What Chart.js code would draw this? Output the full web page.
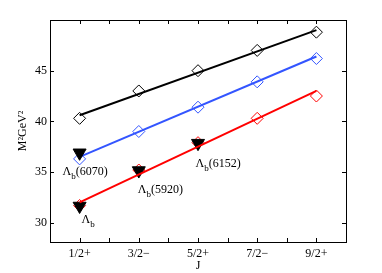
<!DOCTYPE html>
<html>
<head>
<meta charset="utf-8">
<script src="https://cdn.jsdelivr.net/npm/chart.js@4/dist/chart.umd.min.js"></script>
<style>
  html, body { margin: 0; padding: 0; background: #fff; }
  #wrap { width: 382px; height: 273px; }
</style>
</head>
<body>
<div id="wrap"><canvas id="chart"></canvas></div>
<script>
// data
const jLabels = ["1/2+", "3/2\u2212", "5/2+", "7/2\u2212", "9/2+"];
const jPos = [1, 2, 3, 4, 5];
const yTicks = [30, 35, 40, 45];

const blackVals = [40.3, 43.0, 45.0, 47.0, 48.8];
const blueVals = [36.3, 39.0, 41.4, 43.9, 46.2];
const redVals = [31.7, 35.2, 37.9, 40.3, 42.5];

// fitted lines, ends at J = 1/2+ and 9/2+
const lineX = [1, 5];
const blackLine = [40.6, 49.0];
const blueLine = [36.5, 46.4];
const redLine = [32.0, 43.0];

// experimental states (triangles)
const expX = [1, 1, 2, 3];
const expVals = [31.65, 36.9, 35.15, 37.85];
const expNames = ["", "(6070)", "(5920)", "(6152)"];

// label offsets in pixels from each triangle (layout only)
const labelOffsets = [[2, 17], [-17, 22], [-1, 22], [-2.5, 24]];

const FONT = "'Liberation Serif', 'DejaVu Serif', serif";

function pts(xs, ys) {
  return xs.map((x, i) => ({ x: x, y: ys[i] }));
}

const frame = {
  id: "frame",
  afterDraw(chart) {
    const { ctx, chartArea: a, scales } = chart;
    ctx.save();
    ctx.strokeStyle = "#000";
    ctx.lineWidth = 1;
    ctx.strokeRect(a.left + 0.5, a.top + 0.5, a.right - a.left, a.bottom - a.top);
    ctx.beginPath();
    for (let v = 1; v <= 5; v += 0.5) {
      const px = Math.round(scales.x.getPixelForValue(v)) + 0.5;
      ctx.moveTo(px, a.bottom); ctx.lineTo(px, a.bottom - 4);
      ctx.moveTo(px, a.top); ctx.lineTo(px, a.top + 4);
    }
    yTicks.forEach((v) => {
      const py = Math.round(scales.y.getPixelForValue(v)) + 0.5;
      ctx.moveTo(a.left, py); ctx.lineTo(a.left + 4, py);
      ctx.moveTo(a.right, py); ctx.lineTo(a.right - 4, py);
    });
    ctx.stroke();

    // state labels: Lambda with subscript b
    ctx.fillStyle = "#000";
    ctx.textBaseline = "alphabetic";
    expX.forEach((x, i) => {
      let px = scales.x.getPixelForValue(x) + labelOffsets[i][0];
      const py = scales.y.getPixelForValue(expVals[i]) + labelOffsets[i][1];
      ctx.font = "12px " + FONT;
      ctx.fillText("\u039B", px, py);
      px += ctx.measureText("\u039B").width;
      ctx.font = "9px " + FONT;
      ctx.fillText("b", px, py + 4);
      px += ctx.measureText("b").width;
      ctx.font = "12px " + FONT;
      ctx.fillText(expNames[i], px, py);
    });
    ctx.restore();
  },
};

new Chart(document.getElementById("chart"), {
  type: "scatter",
  data: {
    datasets: [
      {
        label: "exp",
        data: pts(expX, expVals),
        pointStyle: "triangle",
        rotation: 180,
        pointRadius: 7.5,
        backgroundColor: "#000",
        borderColor: "#000",
        borderWidth: 1,
        order: 1,
      },
      {
        label: "black",
        data: pts(jPos, blackVals),
        pointStyle: "rectRot",
        pointRadius: 6,
        backgroundColor: "rgba(0,0,0,0)",
        borderColor: "#000",
        borderWidth: 1,
        order: 2,
      },
      {
        label: "blue",
        data: pts(jPos, blueVals),
        pointStyle: "rectRot",
        pointRadius: 6,
        backgroundColor: "rgba(0,0,0,0)",
        borderColor: "#3355ff",
        borderWidth: 1,
        order: 2,
      },
      {
        label: "red",
        data: pts(jPos, redVals),
        pointStyle: "rectRot",
        pointRadius: 6,
        backgroundColor: "rgba(0,0,0,0)",
        borderColor: "#ff0000",
        borderWidth: 1,
        order: 2,
      },
      {
        label: "black fit",
        data: pts(lineX, blackLine),
        showLine: true,
        pointRadius: 0,
        borderColor: "#000",
        borderWidth: 2,
        order: 3,
      },
      {
        label: "blue fit",
        data: pts(lineX, blueLine),
        showLine: true,
        pointRadius: 0,
        borderColor: "#3355ff",
        borderWidth: 2,
        order: 3,
      },
      {
        label: "red fit",
        data: pts(lineX, redLine),
        showLine: true,
        pointRadius: 0,
        borderColor: "#ff0000",
        borderWidth: 2,
        order: 0,
      },
    ],
  },
  options: {
    responsive: true,
    maintainAspectRatio: false,
    animation: false,
    layout: { padding: { top: 20, right: 36, left: 0, bottom: 0 } },
    plugins: { legend: { display: false }, tooltip: { enabled: false } },
    scales: {
      x: {
        type: "linear",
        min: 0.5,
        max: 5.5,
        grid: { display: false, drawTicks: false },
        border: { display: false },
        afterBuildTicks: (s) => { s.ticks = jPos.map((v) => ({ value: v })); },
        afterFit: (s) => { s.height = 31; },
        ticks: {
          padding: 5,
          color: "#000",
          font: { family: FONT, size: 12 },
          callback: (v) => jLabels[jPos.indexOf(v)],
        },
        title: {
          display: true,
          text: "J",
          color: "#000",
          font: { family: FONT, size: 12 },
          padding: { top: 0, bottom: 0 },
        },
      },
      y: {
        min: 28.1,
        max: 50,
        grid: { display: false, drawTicks: false },
        border: { display: false },
        afterBuildTicks: (s) => { s.ticks = yTicks.map((v) => ({ value: v })); },
        afterFit: (s) => { s.width = 50; },
        ticks: {
          padding: 3,
          color: "#000",
          font: { family: FONT, size: 12 },
        },
        title: {
          display: true,
          text: "M\u00B2GeV\u00B2",
          color: "#000",
          font: { family: FONT, size: 12 },
          padding: { top: 16, bottom: 0 },
        },
      },
    },
  },
  plugins: [frame],
});
</script>
</body>
</html>
